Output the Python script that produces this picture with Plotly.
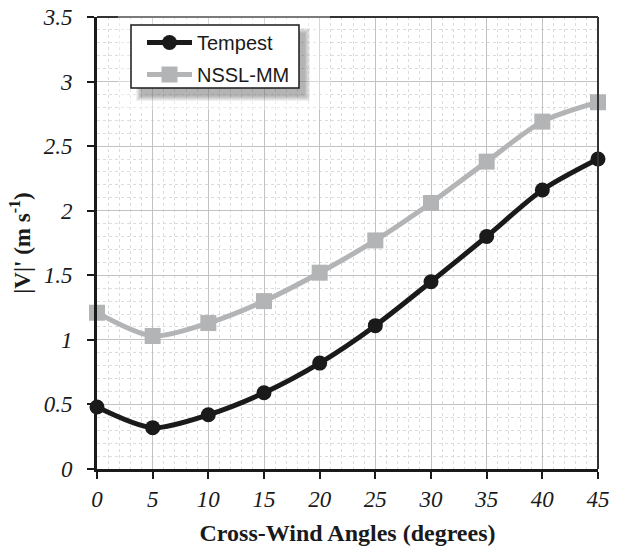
import plotly.graph_objects as go

angles = [0, 5, 10, 15, 20, 25, 30, 35, 40, 45]
tempest = [0.48, 0.32, 0.42, 0.59, 0.82, 1.11, 1.45, 1.80, 2.16, 2.40]
nssl_mm = [1.21, 1.03, 1.13, 1.30, 1.52, 1.77, 2.06, 2.38, 2.69, 2.84]
x_ticks = [0, 5, 10, 15, 20, 25, 30, 35, 40, 45]
y_ticks = [0, 0.5, 1, 1.5, 2, 2.5, 3, 3.5]
y_tick_labels = ["0", "0.5", "1", "1.5", "2", "2.5", "3", "3.5"]

W, H = 623, 549
L, R, T, B = 97, 25, 17, 80
PW, PH = W - L - R, H - T - B


def px(X):
    return (X - L) / PW


def py(Y):
    return (H - B - Y) / PH


fig = go.Figure()
fig.add_trace(go.Scatter(
    x=angles, y=tempest, name="Tempest", mode="lines+markers",
    line=dict(color="#1a1a1a", width=5, shape="spline", smoothing=0.8),
    marker=dict(symbol="circle", size=15, color="#1a1a1a"),
    cliponaxis=False, legendgroup="a"))
fig.add_trace(go.Scatter(
    x=angles, y=nssl_mm, name="NSSL-MM", mode="lines+markers",
    line=dict(color="#b3b4b6", width=5, shape="spline", smoothing=0.8),
    marker=dict(symbol="square", size=16, color="#b3b4b6"),
    cliponaxis=False, legendgroup="b"))

shapes = []
# top and right borders
shapes.append(dict(type="line", xref="paper", yref="paper", x0=0, x1=1, y0=1, y1=1,
                   line=dict(color="#333333", width=2)))
shapes.append(dict(type="line", xref="paper", yref="paper", x0=1, x1=1, y0=0, y1=1,
                   line=dict(color="#333333", width=2)))
# faded region around legend
shapes.append(dict(type="rect", xref="paper", yref="paper",
                   x0=px(118), x1=px(330), y0=py(110), y1=py(16),
                   fillcolor="white", opacity=0.35, line=dict(width=0), layer="above"))
# legend soft shadow
for k in range(6):
    shapes.append(dict(type="rect", xref="paper", yref="paper",
                       x0=px(141 - k), x1=px(305 + k),
                       y0=py(96 + k), y1=py(33 - k),
                       fillcolor="#404040", opacity=0.08, line=dict(width=0), layer="above"))
# legend box
shapes.append(dict(type="rect", xref="paper", yref="paper",
                   x0=px(131), x1=px(299), y0=py(88), y1=py(25),
                   fillcolor="white", line=dict(color="#1a1a1a", width=1.5), layer="above"))

tickfont = dict(family="Liberation Serif", size=23, color="#1a1a1a", style="italic")
titlefont = dict(family="Liberation Serif", size=24, color="#1a1a1a", weight="bold")

fig.update_layout(
    width=W, height=H,
    margin=dict(l=L, r=R, t=T, b=B, autoexpand=False),
    paper_bgcolor="white", plot_bgcolor="white",
    showlegend=True,
    legend=dict(x=px(142), y=py(23), xanchor="left", yanchor="top",
                bgcolor="rgba(0,0,0,0)", borderwidth=0,
                font=dict(family="Liberation Sans", size=20, color="#1a1a1a"),
                tracegroupgap=3, itemwidth=45),
    shapes=shapes,
    xaxis=dict(range=[0, 45], tickvals=x_ticks, ticktext=[str(v) for v in x_ticks],
               tickfont=tickfont, ticks="outside", ticklen=7, tickwidth=2, tickcolor="#1a1a1a",
               automargin=False,
               showline=True, linecolor="#1a1a1a", linewidth=3,
               showgrid=True, gridcolor="#c2c2c2", gridwidth=1,
               minor=dict(dtick=1, showgrid=True, gridcolor="#dcdcdc", griddash="dot", gridwidth=1),
               zeroline=False,
               title=dict(text="Cross-Wind Angles (degrees)", standoff=14, font=titlefont)),
    yaxis=dict(range=[0, 3.5], tickvals=y_ticks, ticktext=y_tick_labels,
               tickfont=tickfont, ticks="outside", ticklen=7, tickwidth=2, tickcolor="#1a1a1a",
               ticklabelstandoff=10, automargin=False,
               showline=True, linecolor="#1a1a1a", linewidth=3,
               showgrid=True, gridcolor="#c2c2c2", gridwidth=1,
               minor=dict(dtick=0.1, showgrid=True, gridcolor="#dcdcdc", griddash="dot", gridwidth=1),
               zeroline=False,
               title=dict(text="|V|' (m s<sup>-1</sup>)", standoff=6,
                          font=dict(family="Liberation Serif", size=23, color="#1a1a1a",
                                    weight="bold"))),
)

fig.write_html("out.html")
